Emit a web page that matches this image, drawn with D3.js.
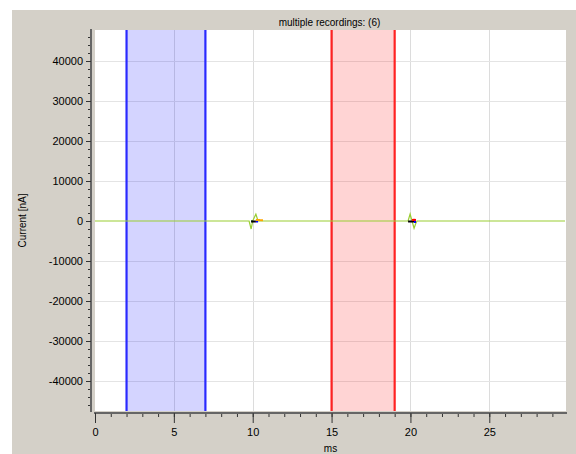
<!DOCTYPE html>
<html><head><meta charset="utf-8">
<script src="https://cdn.jsdelivr.net/npm/d3@7"></script>
<style>body{margin:0;background:#fff}svg{display:block}</style>
</head><body>
<svg id="chart" width="576" height="454"></svg>
<script>
// ---- data ----
const title = "multiple recordings: (6)";
const xLabel = "ms";
const yLabel = "Current [nA]";
const xDomain = [0, 29.8];
const yDomain = [-47500, 47750];
const xTicks = [0, 5, 10, 15, 20, 25];
const yTicks = [-40000, -30000, -20000, -10000, 0, 10000, 20000, 30000, 40000];
const blueRegion = [2, 7];
const redRegion = [15, 19];
const times     = [0, 9.77, 9.9, 10.0, 10.1, 10.2, 10.34, 10.45, 10.65,
                   19.85, 19.98, 20.1, 20.23, 20.35, 20.42, 20.6, 29.8];
const recGreen  = [0, 0, -2000, 0, 900, 1700, 0, 0, 0,
                   0, 1750, 0, -1800, -500, 0, 0, 0];
const recDkGrn  = [null, null, -60, -60, null, null, null, null, null,
                   null, null, null, null, null, null, null, null];
const recBlack  = [null, null, -150, -150, -150, -150, null, null, null,
                   -150, -150, -150, -150, -150, null, null, null];
const recBlue   = [null, null, null, null, null, -150, -150, null, null,
                   null, null, null, -250, -250, null, null, null];
const recRed    = [null, null, null, null, null, null, null, null, null,
                   null, null, 250, 300, 250, null, null, null];
const recOrange = [null, null, null, null, null, 250, 250, 220, 200,
                   null, null, null, null, null, null, null, null];
const recordings = [recGreen, recDkGrn, recBlack, recBlue, recRed, recOrange];
const recColors = ["#9acd32", "#2e7d32", "#000000", "#0000ff", "#ff0000", "#ffa500"];

// ---- layout ----
const svg = d3.select("#chart");
const plot = {left: 95, top: 30, right: 566, bottom: 411};
svg.append("rect").attr("x", 12).attr("y", 10).attr("width", 564).attr("height", 444).attr("fill", "#d4d0c8");
svg.append("rect").attr("x", plot.left).attr("y", plot.top)
  .attr("width", plot.right - plot.left).attr("height", plot.bottom - plot.top).attr("fill", "#fff");

const x = d3.scaleLinear().domain(xDomain).range([95, 565]);
const y = d3.scaleLinear().domain(yDomain).range([plot.bottom, plot.top]);
const fmt = d => String(d);

svg.append("clipPath").attr("id", "clip").append("rect")
  .attr("x", plot.left).attr("y", plot.top).attr("width", plot.right - plot.left).attr("height", plot.bottom - plot.top);
const g = svg.append("g").attr("clip-path", "url(#clip)");

// grid
g.selectAll(".gx").data(xTicks.filter(d => d > 0)).join("line")
  .attr("x1", d => Math.round(x(d)) + 0.5).attr("x2", d => Math.round(x(d)) + 0.5)
  .attr("y1", plot.top).attr("y2", plot.bottom).attr("stroke", "#dcdcdc").attr("stroke-width", 1);
g.selectAll(".gy").data(yTicks.filter(d => d !== 0)).join("line")
  .attr("y1", d => Math.round(y(d)) + 0.5).attr("y2", d => Math.round(y(d)) + 0.5)
  .attr("x1", plot.left).attr("x2", plot.right).attr("stroke", "#e4e4e4").attr("stroke-width", 1);

// regions
function region(r, fill, edge) {
  g.append("rect").attr("x", x(r[0])).attr("y", plot.top)
    .attr("width", x(r[1]) - x(r[0])).attr("height", plot.bottom - plot.top)
    .attr("fill", fill).attr("fill-opacity", 0.17);
  g.selectAll(null).data(r).join("line")
    .attr("x1", d => x(d)).attr("x2", d => x(d)).attr("y1", plot.top).attr("y2", plot.bottom)
    .attr("stroke", edge).attr("stroke-width", 2.2);
}
region(blueRegion, "#0000ff", "#2a2aff");
region(redRegion, "#ff0000", "#ff2222");

// traces
const line = d3.line().defined(d => d[1] !== null).x(d => x(d[0])).y(d => y(d[1]));
recordings.forEach((rec, i) => {
  g.append("path").datum(times.map((t, j) => [t, rec[j]]))
    .attr("d", line).attr("fill", "none").attr("stroke", recColors[i])
    .attr("stroke-width", i === 0 ? 1.2 : 2);
});

// axes
const font = "'Liberation Sans', Arial, sans-serif";
const yAxisX = 91, xAxisY = 413;
const yMinor = d3.range(-46000, 47000, 2000);
const xMinor = d3.range(0, 30, 1);
const ya = svg.append("g").attr("transform", `translate(${yAxisX},0)`);
ya.call(d3.axisLeft(y).tickValues(yMinor).tickSize(3).tickFormat(""));
ya.append("g").call(d3.axisLeft(y).tickValues(yTicks).tickSize(5).tickPadding(3).tickFormat(fmt));
ya.selectAll("path.domain").attr("d", `M0,${plot.top - 1}V${plot.bottom + 1}`).attr("stroke", "#666").attr("stroke-width", 2);
ya.selectAll(".tick line").attr("stroke", "#333");
ya.selectAll("text").attr("font-family", font).attr("font-size", 11).attr("fill", "#000");

const xa = svg.append("g").attr("transform", `translate(0,${xAxisY})`);
xa.call(d3.axisBottom(x).tickValues(xMinor).tickSize(4).tickFormat(""));
xa.append("g").call(d3.axisBottom(x).tickValues(xTicks).tickSize(10).tickPadding(5).tickFormat(fmt));
xa.selectAll("path.domain").attr("d", `M${plot.left - 1},0H${plot.right + 1}`).attr("stroke", "#666").attr("stroke-width", 2);
xa.selectAll(".tick line").attr("stroke", "#333");
xa.selectAll("text").attr("font-family", font).attr("font-size", 11).attr("fill", "#000");

// labels
svg.append("text").attr("x", (plot.left + plot.right) / 2 - 1).attr("y", 26)
  .attr("text-anchor", "middle").attr("font-family", font).attr("font-size", 10).text(title);
svg.append("text").attr("x", (plot.left + plot.right) / 2).attr("y", 452)
  .attr("text-anchor", "middle").attr("font-family", font).attr("font-size", 10).text(xLabel);
svg.append("text").attr("transform", `translate(26,${(plot.top + plot.bottom) / 2}) rotate(-90)`)
  .attr("text-anchor", "middle").attr("font-family", font).attr("font-size", 10).text(yLabel);
</script>
</body></html>
